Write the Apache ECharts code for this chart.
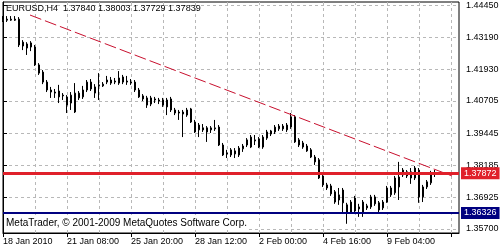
<!DOCTYPE html>
<html><head><meta charset="utf-8">
<script src="https://cdn.jsdelivr.net/npm/echarts@6/dist/echarts.min.js"></script>
<style>html,body{margin:0;padding:0;background:#fff}#c{width:503px;height:250px}</style>
</head><body><div id="c"></div>
<script>
const symbolName = 'EURUSD,H4';
const lastBar = ['1.37840', '1.38003', '1.37729', '1.37839'];
const footerText = 'MetaTrader, \u00a9 2001-2009 MetaQuotes Software Corp.';
const xTickLabels = ['18 Jan 2010', '21 Jan 08:00', '25 Jan 20:00', '28 Jan 12:00', '2 Feb 00:00', '4 Feb 16:00', '9 Feb 04:00'];
const yTicks = [1.35700, 1.36925, 1.38185, 1.39445, 1.40705, 1.41930, 1.43190, 1.44450];
const barCount = 115;

const opens = [
1.4386,1.4390,1.4386,1.4390,1.4390,1.4300,1.4293,1.4297,1.4281,1.4211,
1.4183,1.4144,1.4113,1.4105,1.4109,1.4093,1.4086,1.4062,1.4027,1.4082,
1.4086,1.4113,1.4144,1.4101,1.4129,1.4129,1.4152,1.4152,1.4144,1.4140,
1.4164,1.4148,1.4144,1.4144,1.4113,1.4090,1.4082,1.4058,1.4078,1.4074,
1.4074,1.4074,1.4078,1.4035,1.4027,1.4027,1.4015,1.4039,1.3988,1.3957,
1.3965,1.3965,1.3957,1.3961,1.3968,1.3898,1.3867,1.3859,1.3863,1.3859,
1.3883,1.3898,1.3890,1.3918,1.3922,1.3890,1.3925,1.3941,1.3949,1.3961,
1.3972,1.3957,1.3968,1.4008,1.3918,1.3906,1.3894,1.3879,1.3851,1.3840,
1.3777,1.3742,1.3738,1.3715,1.3683,1.3722,1.3664,1.3636,1.3691,1.3656,
1.3636,1.3660,1.3656,1.3695,1.3672,1.3652,1.3675,1.3703,1.3711,1.3734,
1.3800,1.3793,1.3793,1.3769,1.3800,1.3695,1.3734,1.3750,1.37840];
const closes = [
1.4390,1.4386,1.4390,1.4386,1.4289,1.4285,1.4277,1.4281,1.4211,1.4179,
1.4144,1.4113,1.4105,1.4101,1.4086,1.4090,1.4054,1.4093,1.4101,1.4101,
1.4113,1.4144,1.4117,1.4125,1.4133,1.4136,1.4144,1.4140,1.4148,1.4160,
1.4144,1.4144,1.4140,1.4113,1.4086,1.4078,1.4054,1.4082,1.4074,1.4070,
1.4054,1.4047,1.4035,1.4023,1.4023,1.4019,1.4035,1.3988,1.3949,1.3976,
1.3957,1.3949,1.3965,1.3965,1.3898,1.3859,1.3863,1.3879,1.3875,1.3886,
1.3894,1.3918,1.3929,1.3914,1.3890,1.3929,1.3949,1.3953,1.3968,1.3972,
1.3961,1.3976,1.4008,1.3910,1.3898,1.3890,1.3875,1.3851,1.3832,1.3769,
1.3742,1.3730,1.3707,1.3675,1.3703,1.3672,1.3633,1.3675,1.3640,1.3648,
1.3675,1.3652,1.3695,1.3668,1.3644,1.3675,1.3730,1.3730,1.3769,1.3773,
1.3781,1.3777,1.3769,1.3808,1.3695,1.3734,1.3754,1.3789,1.37839];
const lows = [
1.4379,1.4379,1.4383,1.4383,1.4281,1.4269,1.4250,1.4265,1.4207,1.4172,
1.4136,1.4105,1.4082,1.4082,1.4062,1.4074,1.4023,1.4035,1.4023,1.4074,
1.4078,1.4105,1.4109,1.4082,1.4074,1.4125,1.4136,1.4133,1.4136,1.4133,
1.4136,1.4133,1.4133,1.4105,1.4082,1.4070,1.4043,1.4050,1.4062,1.4058,
1.4047,1.4015,1.4027,1.4015,1.3996,1.3929,1.4008,1.3984,1.3945,1.3929,
1.3949,1.3910,1.3945,1.3953,1.3894,1.3855,1.3847,1.3851,1.3847,1.3851,
1.3871,1.3890,1.3886,1.3898,1.3886,1.3883,1.3918,1.3933,1.3941,1.3953,
1.3953,1.3949,1.3961,1.3906,1.3890,1.3883,1.3871,1.3847,1.3820,1.3765,
1.3734,1.3722,1.3699,1.3668,1.3664,1.3636,1.3590,1.3629,1.3633,1.3617,
1.3617,1.3644,1.3648,1.3660,1.3636,1.3644,1.3672,1.3695,1.3703,1.3683,
1.3773,1.3769,1.3746,1.3761,1.3672,1.3675,1.3726,1.3742,1.37729];
const highs = [
1.4402,1.4402,1.4402,1.4402,1.4398,1.4308,1.4300,1.4304,1.4289,1.4218,
1.4191,1.4152,1.4125,1.4117,1.4133,1.4101,1.4093,1.4105,1.4140,1.4109,
1.4129,1.4152,1.4156,1.4136,1.4179,1.4144,1.4168,1.4164,1.4160,1.4187,
1.4172,1.4168,1.4156,1.4152,1.4121,1.4097,1.4090,1.4090,1.4086,1.4082,
1.4082,1.4082,1.4086,1.4043,1.4035,1.4035,1.4043,1.4043,1.3996,1.3984,
1.3980,1.3972,1.3972,1.3996,1.3976,1.3906,1.3879,1.3886,1.3886,1.3894,
1.3902,1.3925,1.3937,1.3937,1.3929,1.3937,1.3957,1.3957,1.3976,1.3980,
1.3980,1.3984,1.4023,1.4015,1.3925,1.3914,1.3902,1.3886,1.3859,1.3847,
1.3785,1.3750,1.3746,1.3722,1.3730,1.3730,1.3672,1.3683,1.3699,1.3668,
1.3683,1.3668,1.3703,1.3703,1.3679,1.3683,1.3738,1.3738,1.3777,1.3832,
1.3808,1.3800,1.3808,1.3816,1.3808,1.3742,1.3761,1.3797,1.38003];

const resistanceLevel = 1.37872;
const supportLevel = 1.36326;
const trendStart = [6.75, 1.4406];
const trendEnd = [112.25, 1.3777];

const FONT = '"Liberation Sans", Arial, sans-serif';
const categories = Array.from({length: barCount}, (_, i) => String(i));
const candleData = opens.map((o, i) => [o, closes[i], lows[i], highs[i]]);

const chart = echarts.init(document.getElementById('c'), null, {renderer: 'canvas'});
const gridDash = {color: '#b8b8b8', width: 1, type: [3, 3]};

chart.setOption({
  animation: false,
  backgroundColor: '#fff',
  grid: {left: 3, right: 44, top: 2, bottom: 17, show: true, borderColor: '#000', borderWidth: 1, backgroundColor: '#fff'},
  xAxis: [{
    type: 'category', data: categories, boundaryGap: false,
    axisLine: {show: true, lineStyle: {color: '#000', width: 1}},
    axisTick: {show: true, interval: 15, length: 4, lineStyle: {color: '#000'}},
    axisLabel: {show: true, interval: 15, align: 'left', margin: 4, color: '#000', fontFamily: FONT, fontSize: 9,
      formatter: (v, idx) => xTickLabels[idx / 16] || ''},
    splitLine: {show: true, interval: 7, lineStyle: gridDash}
  }, {
    type: 'value', min: 0, max: barCount - 1, show: false
  }],
  yAxis: {
    type: 'value', position: 'right', min: 1.3554, max: 1.4457,
    axisLine: {show: true, lineStyle: {color: '#000', width: 1}},
    axisTick: {show: true, customValues: yTicks, length: 4, lineStyle: {color: '#000'}},
    axisLabel: {show: true, customValues: yTicks, margin: 7, color: '#000', fontFamily: FONT, fontSize: 9,
      formatter: v => v.toFixed(5)},
    splitLine: {show: true, lineStyle: gridDash}
  },
  series: [{
    type: 'candlestick', xAxisIndex: 0, yAxisIndex: 0, data: candleData,
    barWidth: 2, clip: false,
    itemStyle: {color: '#ffffff', color0: '#000000', borderColor: '#000000', borderColor0: '#000000', borderWidth: 1},
    markLine: {
      silent: true, symbol: ['none', 'none'], animation: false, precision: 5,
      data: [
        {yAxis: resistanceLevel, lineStyle: {color: '#e0202a', width: 3, type: 'solid'},
         label: {show: true, position: 'end', distance: 2, formatter: p => p.value.toFixed(5), color: '#fff',
                 backgroundColor: '#e0202a', padding: [2, 3, 1, 3], fontFamily: FONT, fontSize: 9}},
        {yAxis: supportLevel, lineStyle: {color: '#000080', width: 2, type: 'solid'},
         label: {show: true, position: 'end', distance: 2, formatter: p => p.value.toFixed(5), color: '#fff',
                 backgroundColor: '#000080', padding: [2, 3, 1, 3], fontFamily: FONT, fontSize: 9}}
      ]
    }
  }, {
    type: 'line', xAxisIndex: 1, yAxisIndex: 0, data: [trendStart, trendEnd],
    symbol: 'none', silent: true,
    lineStyle: {color: '#c8102e', width: 1, type: [12, 4]}
  }],
  graphic: [{
    type: 'text', left: 6, top: 4, z: 100,
    style: {text: symbolName + '  ' + lastBar.join(' '), fill: '#000', font: '9px ' + FONT}
  }, {
    type: 'text', left: 4, top: 217, z: 100,
    style: {text: footerText, fill: '#000', font: '10px ' + FONT, backgroundColor: '#fff', padding: [1, 2, 2, 2]}
  }]
});
</script>
</body></html>
